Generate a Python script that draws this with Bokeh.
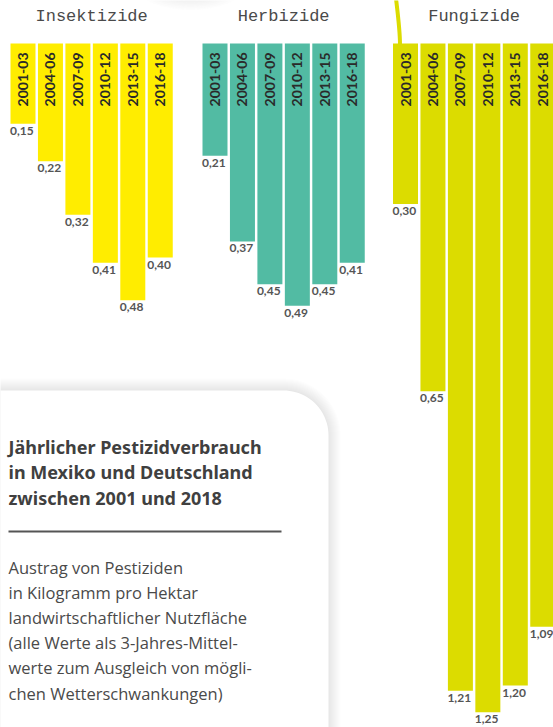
import numpy as np
from bokeh.plotting import figure
from bokeh.models import Range1d, ColumnDataSource
from bokeh.core.properties import value
from bokeh.embed import file_html
from bokeh.resources import INLINE

# ---------------- data ----------------
periods = ["2001-03", "2004-06", "2007-09", "2010-12", "2013-15", "2016-18"]
insektizide = [0.15, 0.22, 0.32, 0.41, 0.48, 0.40]
herbizide = [0.21, 0.37, 0.45, 0.49, 0.45, 0.41]
fungizide = [0.30, 0.65, 1.21, 1.25, 1.20, 1.09]
group_names = ["Insektizide", "Herbizide", "Fungizide"]
group_values = [insektizide, herbizide, fungizide]
group_colors = ["#FFED00", "#52BBA3", "#DCDC00"]

title_lines = ["Jährlicher Pestizidverbrauch",
               "in Mexiko und Deutschland",
               "zwischen 2001 und 2018"]
body_lines = ["Austrag von Pestiziden",
              "in Kilogramm pro Hektar",
              "landwirtschaftlicher Nutzfläche",
              "(alle Werte als 3-Jahres-Mittel-",
              "werte zum Ausgleich von mögli-",
              "chen Wetterschwankungen)"]

# ---------------- layout ----------------
W, H = 553, 727
TOP = 43          # pixel row where bars hang from
K = 535.0         # pixels per kg/ha
group_left = [10, 202, 392.5]
pitch = 27.45
bar_w = 25

p = figure(width=W, height=H, x_range=Range1d(0, W),
           y_range=Range1d((H - TOP) / K, -TOP / K),
           output_backend="svg", toolbar_location=None, min_border=0,
           x_axis_type=None, y_axis_type=None, outline_line_color=None)
p.extra_y_ranges = {"px": Range1d(H, 0)}
p.xgrid.visible = False
p.ygrid.visible = False
p.background_fill_color = "white"
p.border_fill_color = "white"


def rounded_rect(x0, x1, y0, y1, r, n=24):
    xs, ys = [], []
    corners = [(x1 - r, y0 + r, -np.pi / 2, 0),
               (x1 - r, y1 - r, 0, np.pi / 2),
               (x0 + r, y1 - r, np.pi / 2, np.pi),
               (x0 + r, y0 + r, np.pi, 1.5 * np.pi)]
    for cx, cy, a0, a1 in corners:
        t = np.linspace(a0, a1, n)
        xs.extend(cx + r * np.cos(t))
        ys.extend(cy + r * np.sin(t))
    return xs, ys


# top decorative shadow (soft)
for i in range(10):
    p.ellipse(x=[190], y=[-12], width=[50 + 6 * i], height=[16 + 3 * i],
              y_range_name="px", fill_color="#999999", fill_alpha=0.018,
              line_color=None)

# decorative curve
p.bezier(x0=[395.5], y0=[-2], x1=[399.5], y1=[44], cx0=[397.5], cy0=[15],
         cx1=[399.5], cy1=[30], y_range_name="px",
         line_color="#DCDC00", line_width=4)

# info box with shadow
bx0, bx1, by0, by1, br = -60, 328, 390, 820, 45
for i in range(12, 0, -1):
    xs, ys = rounded_rect(bx0 - i, bx1 + i, by0 - i, by1 + i, br + i)
    p.patch(xs, ys, y_range_name="px", fill_color="#777777",
            fill_alpha=0.012, line_color=None)
xs, ys = rounded_rect(bx0, bx1, by0, by1, br)
p.patch(xs, ys, y_range_name="px", fill_color="white", line_color=None)

# bars
for g, (name, vals, col) in enumerate(zip(group_names, group_values, group_colors)):
    xc = [group_left[g] + bar_w / 2 + pitch * i for i in range(len(vals))]
    src = ColumnDataSource(dict(
        x=xc, v=vals, period=periods,
        xl=[x - bar_w / 2 - 0.5 for x in xc],
        lbl=[f"{v:.2f}".replace(".", ",") for v in vals]))
    p.vbar(x="x", width=bar_w, top=0, bottom="v", source=src,
           fill_color=col, line_color=None)
    p.text(x="x", y=0, text="period", source=src, angle=np.pi / 2,
           y_offset=9, text_align="right", text_baseline="middle",
           text_font=value("Lato"), text_font_style="bold",
           text_font_size="14px", text_color="#2a2a2a")
    p.text(x="xl", y="v", text="lbl", source=src, y_offset=3,
           text_align="left", text_baseline="top",
           text_font=value("Lato"), text_font_style="bold",
           text_font_size="12px", text_color="#555555")
    p.text(x=[group_left[g] + (pitch * 5 + bar_w) / 2], y=[16], text=[name],
           y_range_name="px", text_align="center", text_baseline="middle",
           text_font=value("Liberation Mono"), text_font_size="17px",
           text_color="#4a4a4a")

# info box texts
p.text(x=[8] * len(title_lines), y=[446 + 25.5 * i for i in range(len(title_lines))],
       text=title_lines, y_range_name="px", text_align="left",
       text_baseline="middle", text_font=value("Noto Sans"),
       text_font_style="bold", text_font_size="18px", text_color="#404040")
p.segment(x0=[8], y0=[531], x1=[281], y1=[531], y_range_name="px",
          line_color="#555555", line_width=2)
p.text(x=[8] * len(body_lines), y=[566.5 + 25.2 * i for i in range(len(body_lines))],
       text=body_lines, y_range_name="px", text_align="left",
       text_baseline="middle", text_font=value("Open Sans"),
       text_font_size="16.5px", text_color="#4a4a4a")

open("out.html", "w").write(file_html(p, INLINE))
